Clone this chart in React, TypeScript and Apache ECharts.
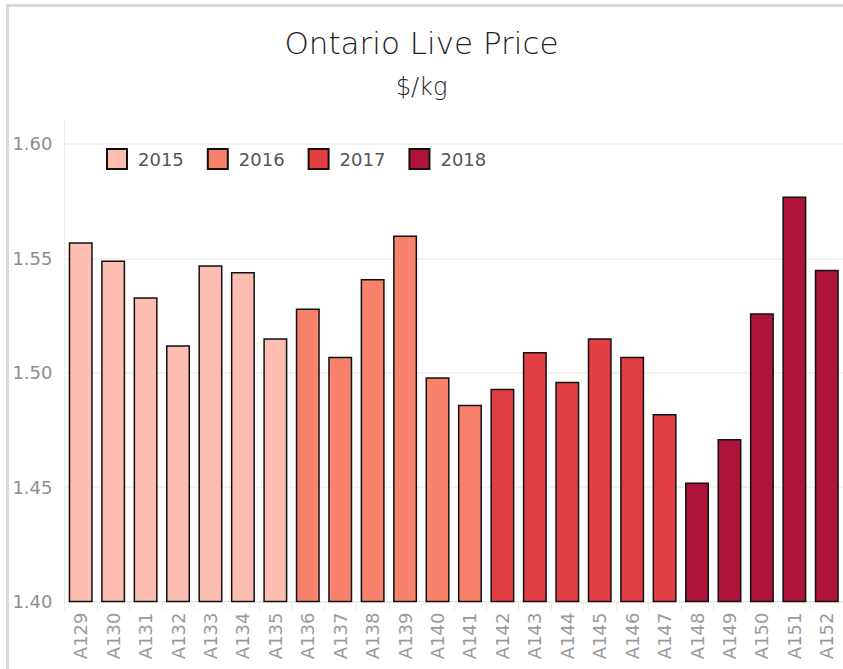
import React, { useEffect, useRef } from "react";
import * as echarts from "echarts";

const categories = ["A129","A130","A131","A132","A133","A134","A135","A136","A137","A138","A139","A140","A141","A142","A143","A144","A145","A146","A147","A148","A149","A150","A151","A152"];
const prices = [1.557,1.549,1.533,1.512,1.547,1.544,1.515,1.528,1.507,1.541,1.560,1.498,1.486,1.493,1.509,1.496,1.515,1.507,1.482,1.452,1.471,1.526,1.577,1.545];
const years = ["2015","2015","2015","2015","2015","2015","2015","2016","2016","2016","2016","2016","2016","2017","2017","2017","2017","2017","2017","2018","2018","2018","2018","2018"];
const yearNames = ["2015","2016","2017","2018"];
const yearColors = ["#FDBDB1","#F8826B","#E23F45","#AE1339"];
const yTicks = { min: 1.4, max: 1.61, interval: 0.05 };

export default function App() {
  const ref = useRef<HTMLDivElement>(null);
  useEffect(() => {
    document.body.style.margin = "0";
    const chart = echarts.init(ref.current!, null, { renderer: "svg" });
    const font = "DejaVu Sans";
    const series = yearNames.map((y, i) => ({
      name: y,
      type: "bar",
      stack: "all",
      barWidth: 24,
      itemStyle: { color: yearColors[i], borderColor: "#111", borderWidth: 1.5 },
      data: prices.map((v, k) => (years[k] === y ? v : "-")),
    }));
    chart.setOption({
      animation: false,
      backgroundColor: "#fff",
      title: [
        {
          text: "Ontario Live Price",
          left: "center",
          top: 22,
          textStyle: { fontFamily: font, fontWeight: 200, fontSize: 31, color: "#222" },
        },
        {
          text: "$/kg",
          left: "center",
          top: 70,
          textStyle: { fontFamily: font, fontWeight: 200, fontSize: 24, color: "#222" },
        },
      ],
      legend: {
        left: 101,
        top: 143,
        icon: "rect",
        itemWidth: 20,
        itemHeight: 20,
        itemGap: 23,
        data: yearNames,
        textStyle: { fontFamily: font, fontSize: 18, color: "#555", padding: [0, 0, 0, 6] },
      },
      grid: { left: 64.5, right: -5.5, top: 121, bottom: 67.5 },
      xAxis: {
        type: "category",
        data: categories,
        axisLine: { show: true, lineStyle: { color: "#e4e4e4", width: 1 } },
        axisTick: { show: true, length: 9, lineStyle: { color: "#ececec" } },
        axisLabel: { rotate: 90, margin: 11, fontFamily: font, fontSize: 18, color: "#9a9a9a", interval: 0 },
      },
      yAxis: {
        type: "value",
        min: yTicks.min,
        max: yTicks.max,
        interval: yTicks.interval,
        axisLine: { show: true, lineStyle: { color: "#ececec" } },
        axisTick: { show: false },
        splitLine: { show: true, showMaxLine: false, lineStyle: { color: "#efefef", width: 1.5 } },
        axisLabel: {
          showMaxLabel: false,
          margin: 12,
          fontFamily: font,
          fontSize: 18,
          color: "#8e8e8e",
          formatter: (v: number) => v.toFixed(2),
        },
      },
      graphic: [
        { type: "rect", shape: { x: 6, y: 4, width: 843, height: 3 }, style: { fill: "#d9d9d9" }, silent: true },
        { type: "rect", shape: { x: 6, y: 4, width: 3, height: 669 }, style: { fill: "#d9d9d9" }, silent: true },
      ],
      series,
    });
    return () => chart.dispose();
  }, []);
  return <div ref={ref} style={{ width: 843, height: 669 }} />;
}
